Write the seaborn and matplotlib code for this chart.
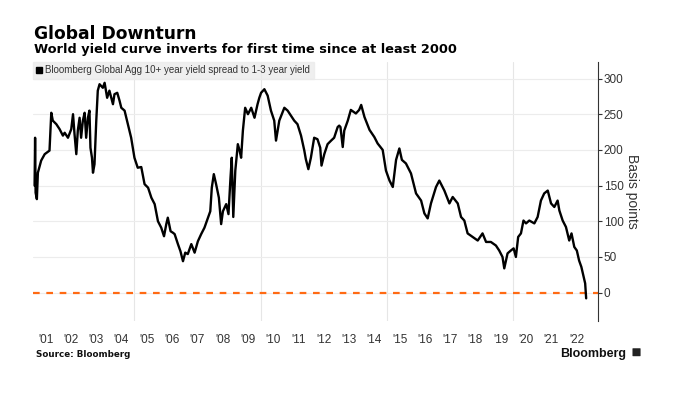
import numpy as np
import pandas as pd
import matplotlib.pyplot as plt
import seaborn as sns
from matplotlib.patches import Patch, FancyBboxPatch

# Spread (year as decimal, basis points)
years = [2001.06, 2001.08, 2001.10, 2001.15, 2001.19, 2001.32, 2001.46, 2001.65, 2001.72,
         2001.78, 2001.92, 2002.05, 2002.18, 2002.25, 2002.38, 2002.51, 2002.58, 2002.64,
         2002.71, 2002.77, 2002.84, 2002.90, 2002.97, 2003.04, 2003.10, 2003.17, 2003.23,
         2003.27, 2003.33, 2003.37, 2003.43, 2003.50, 2003.56, 2003.63, 2003.76, 2003.83,
         2003.93, 2004.02, 2004.16, 2004.22, 2004.33, 2004.42, 2004.49, 2004.62, 2004.75,
         2004.88, 2005.01, 2005.14, 2005.28, 2005.41, 2005.55, 2005.68, 2005.81, 2005.94,
         2006.07, 2006.18, 2006.27, 2006.33, 2006.44, 2006.53, 2006.60, 2006.73, 2006.83,
         2006.93, 2007.02, 2007.12, 2007.26, 2007.39, 2007.52, 2007.65, 2007.78, 2007.92,
         2008.01, 2008.07, 2008.15, 2008.24, 2008.35, 2008.44, 2008.51, 2008.64, 2008.73,
         2008.81, 2008.86, 2008.92, 2009.00, 2009.10, 2009.17, 2009.23, 2009.30, 2009.39,
         2009.50, 2009.63, 2009.76, 2009.88, 2009.95, 2010.02, 2010.15, 2010.28, 2010.41,
         2010.54, 2010.61, 2010.74, 2010.94, 2011.07, 2011.20, 2011.33, 2011.46, 2011.60,
         2011.73, 2011.79, 2011.89, 2011.99, 2012.12, 2012.25, 2012.36, 2012.41, 2012.52,
         2012.65, 2012.79, 2012.91, 2013.05, 2013.11, 2013.16, 2013.25, 2013.31, 2013.45,
         2013.57, 2013.77, 2013.90, 2013.98, 2014.11, 2014.31, 2014.50, 2014.63, 2014.83,
         2014.96, 2015.10, 2015.23, 2015.36, 2015.49, 2015.59, 2015.75, 2015.95, 2016.15,
         2016.35, 2016.48, 2016.61, 2016.74, 2016.94, 2017.07, 2017.27, 2017.47, 2017.60,
         2017.80, 2017.93, 2018.06, 2018.19, 2018.39, 2018.59, 2018.78, 2018.92, 2019.11,
         2019.31, 2019.44, 2019.57, 2019.64, 2019.77, 2019.90, 2020.01, 2020.10, 2020.19,
         2020.30, 2020.40, 2020.50, 2020.63, 2020.83, 2020.96, 2021.09, 2021.22, 2021.36,
         2021.49, 2021.62, 2021.75, 2021.82, 2021.95, 2022.08, 2022.21, 2022.30, 2022.41,
         2022.51, 2022.60, 2022.69, 2022.78, 2022.84, 2022.88]
spread = [150, 217, 140, 131, 168, 185, 194, 199, 252,
          241, 236, 229, 220, 224, 217, 229, 250, 222,
          194, 227, 245, 217, 241, 252, 217, 245, 255,
          203, 189, 168, 180, 241, 283, 292, 287, 294,
          273, 283, 264, 278, 280, 269, 259, 255, 236,
          217, 189, 175, 176, 152, 147, 133, 124, 100,
          91, 79, 96, 105, 86, 84, 82, 68, 58,
          44, 56, 54, 68, 56, 72, 82, 91, 105,
          114, 147, 166, 152, 133, 96, 114, 124, 110,
          161, 189, 106, 171, 208, 199, 189, 227, 259,
          250, 259, 245, 264, 273, 280, 285, 276, 255,
          241, 213, 241, 259, 255, 248, 241, 236, 220,
          199, 187, 173, 189, 217, 215, 203, 178, 194,
          208, 213, 217, 232, 234, 232, 204, 227, 241,
          256, 251, 256, 263, 246, 228, 218, 209, 200,
          171, 157, 148, 186, 202, 186, 181, 167, 139,
          129, 111, 104, 125, 148, 157, 143, 125, 134,
          125, 106, 101, 83, 78, 73, 83, 71, 71,
          66, 59, 50, 34, 55, 59, 62, 50, 78,
          83, 101, 97, 101, 97, 106, 129, 139, 143,
          125, 120, 129, 115, 101, 92, 73, 83, 64,
          59, 45, 36, 22, 13, -8]

year_ticks = np.arange(2001, 2023) + 0.5
year_labels = ["'%02d" % (y % 100) for y in range(2001, 2023)]
y_ticks = [0, 50, 100, 150, 200, 250, 300]

df = pd.DataFrame({'year': years, 'spread': spread})

sns.set_theme(style='white')
plt.rcParams['font.family'] = ['Liberation Sans', 'DejaVu Sans']

fig = plt.figure(figsize=(6.75, 3.98), dpi=100)
ax = fig.add_axes([0.049, 0.193, 0.837, 0.651])

sns.lineplot(data=df, x='year', y='spread', ax=ax, color='black', linewidth=1.7)
ax.axhline(0, color='#ff6a13', linestyle=(0, (3, 3)), linewidth=1.6, zorder=1)

ax.set_xlim(2001.0, 2023.35)
ax.set_ylim(-40, 323)

# x axis: year labels mid-year, gridlines every 5 years
ax.set_xticks(year_ticks)
ax.set_xticklabels(year_labels, fontsize=8.5, color='#333333')
ax.set_xticks([2005, 2010, 2015, 2020], minor=True)
ax.tick_params(axis='x', which='both', length=0, pad=9)
ax.grid(axis='x', which='minor', color='#e6e6e6', linewidth=0.8)
ax.grid(axis='x', which='major', visible=False)

# y axis on the right
ax.yaxis.tick_right()
ax.yaxis.set_label_position('right')
ax.set_yticks(y_ticks)
ax.tick_params(axis='y', length=3, width=0.8, color='#333333', labelsize=8.5,
               labelcolor='#333333', pad=1, right=True, left=False)
ax.grid(axis='y', color='#ececec', linewidth=0.8)
ax.set_ylabel('Basis points', rotation=270, labelpad=11, fontsize=10, color='#333333')
ax.set_xlabel('')

for side in ['top', 'left', 'bottom']:
    ax.spines[side].set_visible(False)
ax.spines['right'].set_color('#333333')
ax.spines['right'].set_linewidth(0.8)

handle = Patch(facecolor='black', edgecolor='black')
leg = ax.legend([handle], ['Bloomberg Global Agg 10+ year yield spread to 1-3 year yield'],
                loc='upper left', bbox_to_anchor=(0.0, 1.0), fontsize=7, frameon=True,
                handlelength=0.6, handleheight=0.6, handletextpad=0.3,
                borderpad=0.35, borderaxespad=0.0, fancybox=False)
leg.get_frame().set_facecolor('#ebebeb')
leg.get_frame().set_edgecolor('#ebebeb')
for t in leg.get_texts():
    t.set_color('#333333')

fig.text(0.050, 0.902, 'Global Downturn', fontsize=12.3, fontweight='bold', color='black',
         family='DejaVu Sans')
fig.text(0.050, 0.866, 'World yield curve inverts for first time since at least 2000',
         fontsize=9.3, fontweight='bold', color='black', family='DejaVu Sans')
fig.text(0.053, 0.102, 'Source: Bloomberg', fontsize=6.3, fontweight='bold', color='#111111',
         family='DejaVu Sans')
fig.text(0.927, 0.103, 'Bloomberg', fontsize=9, fontweight='bold', color='#111111', ha='right')
fig.patches.append(FancyBboxPatch((0.938, 0.106), 0.010, 0.018, boxstyle='round,pad=0.001',
                                  transform=fig.transFigure, facecolor='#222222',
                                  edgecolor='none'))

fig.savefig('out.png', dpi=100)
